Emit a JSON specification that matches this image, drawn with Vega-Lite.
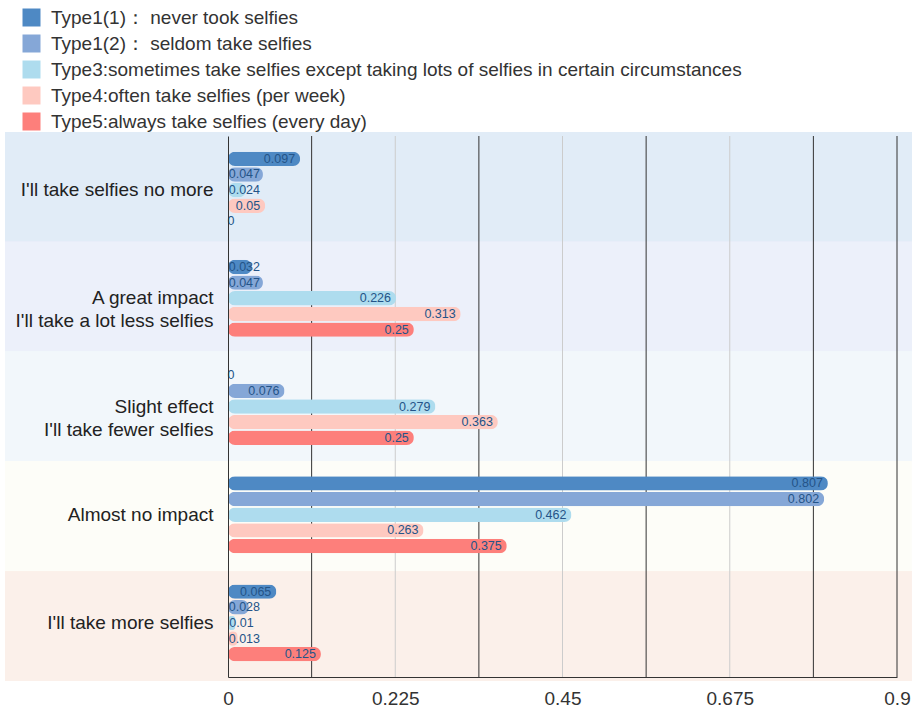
{
  "$schema": "https://vega.github.io/schema/vega-lite/v6.json",
  "width": 669,
  "height": 541,
  "autosize": {"type": "none"},
  "padding": {"left": 228, "top": 136, "right": 20, "bottom": 33},
  "background": "white",
  "config": {
    "font": "Liberation Sans",
    "view": {"stroke": null}
  },
  "data": {
    "values": [
      {"answer": "I'll take selfies no more", "type": "Type1(1)： never took selfies", "share": 0.097},
      {"answer": "I'll take selfies no more", "type": "Type1(2)： seldom take selfies", "share": 0.047},
      {"answer": "I'll take selfies no more", "type": "Type3:sometimes take selfies except taking lots of selfies in certain circumstances", "share": 0.024},
      {"answer": "I'll take selfies no more", "type": "Type4:often take selfies (per week)", "share": 0.05},
      {"answer": "I'll take selfies no more", "type": "Type5:always take selfies (every day)", "share": 0},
      {"answer": "A great impact\nI'll take a lot less selfies", "type": "Type1(1)： never took selfies", "share": 0.032},
      {"answer": "A great impact\nI'll take a lot less selfies", "type": "Type1(2)： seldom take selfies", "share": 0.047},
      {"answer": "A great impact\nI'll take a lot less selfies", "type": "Type3:sometimes take selfies except taking lots of selfies in certain circumstances", "share": 0.226},
      {"answer": "A great impact\nI'll take a lot less selfies", "type": "Type4:often take selfies (per week)", "share": 0.313},
      {"answer": "A great impact\nI'll take a lot less selfies", "type": "Type5:always take selfies (every day)", "share": 0.25},
      {"answer": "Slight effect\nI'll take fewer selfies", "type": "Type1(1)： never took selfies", "share": 0},
      {"answer": "Slight effect\nI'll take fewer selfies", "type": "Type1(2)： seldom take selfies", "share": 0.076},
      {"answer": "Slight effect\nI'll take fewer selfies", "type": "Type3:sometimes take selfies except taking lots of selfies in certain circumstances", "share": 0.279},
      {"answer": "Slight effect\nI'll take fewer selfies", "type": "Type4:often take selfies (per week)", "share": 0.363},
      {"answer": "Slight effect\nI'll take fewer selfies", "type": "Type5:always take selfies (every day)", "share": 0.25},
      {"answer": "Almost no impact", "type": "Type1(1)： never took selfies", "share": 0.807},
      {"answer": "Almost no impact", "type": "Type1(2)： seldom take selfies", "share": 0.802},
      {"answer": "Almost no impact", "type": "Type3:sometimes take selfies except taking lots of selfies in certain circumstances", "share": 0.462},
      {"answer": "Almost no impact", "type": "Type4:often take selfies (per week)", "share": 0.263},
      {"answer": "Almost no impact", "type": "Type5:always take selfies (every day)", "share": 0.375},
      {"answer": "I'll take more selfies", "type": "Type1(1)： never took selfies", "share": 0.065},
      {"answer": "I'll take more selfies", "type": "Type1(2)： seldom take selfies", "share": 0.028},
      {"answer": "I'll take more selfies", "type": "Type3:sometimes take selfies except taking lots of selfies in certain circumstances", "share": 0.01},
      {"answer": "I'll take more selfies", "type": "Type4:often take selfies (per week)", "share": 0.013},
      {"answer": "I'll take more selfies", "type": "Type5:always take selfies (every day)", "share": 0.125}
    ]
  },
  "resolve": {"scale": {"y": "independent"}},
  "layer": [
    {
      "mark": {"type": "rect", "clip": false},
      "encoding": {
        "y": {
          "field": "answer", "type": "nominal",
          "sort": ["I'll take selfies no more", "A great impact\nI'll take a lot less selfies", "Slight effect\nI'll take fewer selfies", "Almost no impact", "I'll take more selfies"],
          "scale": {"paddingInner": 0, "paddingOuter": 0, "range": [-4, 545]},
          "axis": null
        },
        "x": {"datum": -0.3, "type": "quantitative"},
        "x2": {"datum": 0.92},
        "fill": {
          "field": "answer", "type": "nominal", "legend": null,
          "scale": {
            "domain": ["I'll take selfies no more", "A great impact\nI'll take a lot less selfies", "Slight effect\nI'll take fewer selfies", "Almost no impact", "I'll take more selfies"],
            "range": ["#e1ecf7", "#ecf0fa", "#f2f7fb", "#fdfdf8", "#fbf0ea"]
          }
        }
      }
    },
    {"data": {"values": [{}]}, "mark": {"type": "rule", "color": "#cccccc"}, "encoding": {"x": {"datum": 0.225, "type": "quantitative"}}},
    {"data": {"values": [{}]}, "mark": {"type": "rule", "color": "#cccccc"}, "encoding": {"x": {"datum": 0.45, "type": "quantitative"}}},
    {"data": {"values": [{}]}, "mark": {"type": "rule", "color": "#cccccc"}, "encoding": {"x": {"datum": 0.675, "type": "quantitative"}}},
    {"data": {"values": [{}]}, "mark": {"type": "rule", "color": "#333333"}, "encoding": {"x": {"datum": 0.1125, "type": "quantitative"}}},
    {"data": {"values": [{}]}, "mark": {"type": "rule", "color": "#333333"}, "encoding": {"x": {"datum": 0.3375, "type": "quantitative"}}},
    {"data": {"values": [{}]}, "mark": {"type": "rule", "color": "#333333"}, "encoding": {"x": {"datum": 0.5625, "type": "quantitative"}}},
    {"data": {"values": [{}]}, "mark": {"type": "rule", "color": "#333333"}, "encoding": {"x": {"datum": 0.7875, "type": "quantitative"}}},
    {"data": {"values": [{}]}, "mark": {"type": "rule", "color": "#333333"}, "encoding": {"x": {"datum": 0.9, "type": "quantitative"}}},
    {
      "encoding": {
        "y": {
          "field": "answer", "type": "nominal",
          "sort": ["I'll take selfies no more", "A great impact\nI'll take a lot less selfies", "Slight effect\nI'll take fewer selfies", "Almost no impact", "I'll take more selfies"],
          "scale": {"paddingInner": 0, "paddingOuter": 0},
          "axis": {
            "title": null,
            "ticks": false,
            "domainColor": "#333333",
            "labelFontSize": 19,
            "labelColor": "#222222",
            "labelPadding": 15,
            "labelLimit": 300,
            "labelLineHeight": 23,
            "labelExpr": "split(datum.label, '\\n')",
            "zindex": 1
          }
        },
        "yOffset": {
          "field": "type", "type": "nominal",
          "scale": {"paddingInner": 0.08, "paddingOuter": 1.0}
        },
        "x": {
          "field": "share", "type": "quantitative",
          "scale": {"domain": [0, 0.9], "nice": false, "zero": true},
          "axis": {
            "title": null,
            "values": [0, 0.225, 0.45, 0.675, 0.9],
            "format": ".3~f",
            "grid": false,
            "ticks": false,
            "domainColor": "#333333",
            "labelFontSize": 19,
            "labelColor": "#333333",
            "labelPadding": 12,
            "labelFlush": false,
            "zindex": 1
          }
        }
      },
      "layer": [
        {
          "mark": {"type": "bar", "cornerRadius": 7},
          "encoding": {
            "color": {
              "field": "type", "type": "nominal",
              "scale": {
                "domain": [
                  "Type1(1)： never took selfies",
                  "Type1(2)： seldom take selfies",
                  "Type3:sometimes take selfies except taking lots of selfies in certain circumstances",
                  "Type4:often take selfies (per week)",
                  "Type5:always take selfies (every day)"
                ],
                "range": ["#4e89c4", "#85a7d7", "#aedcee", "#fec9c0", "#fd7f7b"]
              },
              "legend": {
                "title": null,
                "orient": "none",
                "legendX": -206,
                "legendY": -128,
                "direction": "vertical",
                "symbolType": "square",
                "symbolSize": 324,
                "symbolStrokeWidth": 0,
                "symbolOpacity": 1,
                "labelFontSize": 19,
                "labelColor": "#333333",
                "labelOffset": 10,
                "labelLimit": 800,
                "rowPadding": 6,
                "padding": 0
              }
            }
          }
        },
        {
          "mark": {
            "type": "text",
            "align": "right",
            "baseline": "middle",
            "fontSize": 12.5,
            "color": "#245488",
            "dx": {"expr": "max(-5, length(toString(datum.share)) * 6.4 - datum.share * 743.3)"}
          },
          "encoding": {
            "text": {"field": "share", "type": "nominal"}
          }
        }
      ]
    }
  ]
}
